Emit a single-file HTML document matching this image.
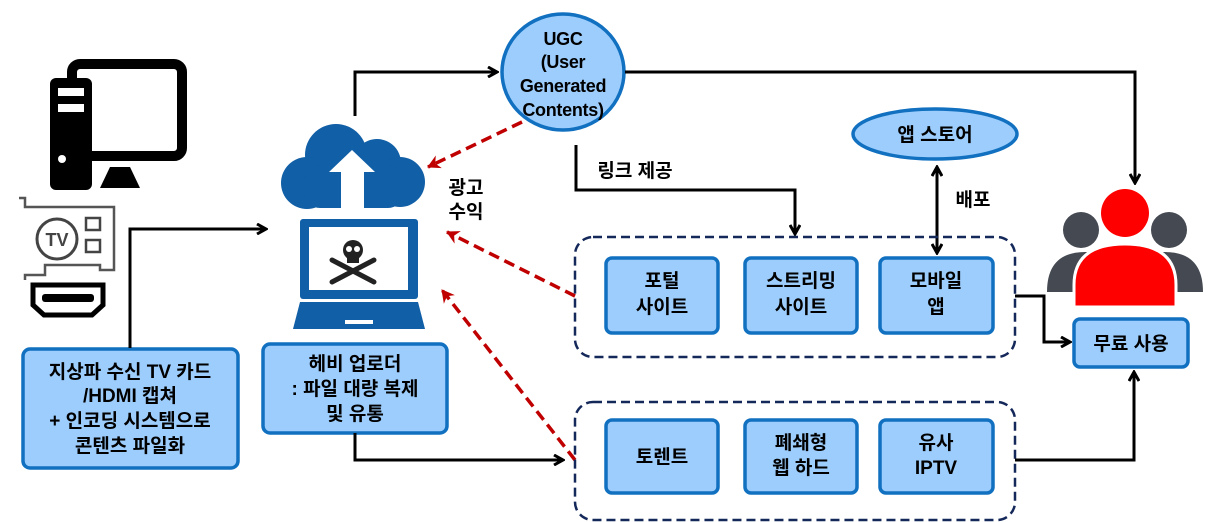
<!DOCTYPE html>
<html><head><meta charset="utf-8"><style>
html,body{margin:0;padding:0;background:#fff;}
svg{display:block;}
text{font-family:"Liberation Sans","Noto Sans CJK KR",sans-serif;font-weight:bold;font-size:19px;fill:#000;text-anchor:middle;}
.ugc{font-size:18px;letter-spacing:-0.3px;}
.box{fill:#9dcdfc;stroke:#1170c0;stroke-width:3.5;}
.grp{fill:none;stroke:#14285a;stroke-width:2.5;stroke-dasharray:9 5;}
.ln{fill:none;stroke:#000;stroke-width:3;}
.rd{fill:none;stroke:#c00000;stroke-width:3.5;stroke-dasharray:11 6;}
</style></head><body>
<svg width="1216" height="522" viewBox="0 0 1216 522" xmlns="http://www.w3.org/2000/svg">
<defs>
<marker id="ab" markerWidth="12" markerHeight="12" refX="10" refY="6" orient="auto" markerUnits="userSpaceOnUse"><path d="M1,1 L10,6 L1,11" fill="none" stroke="#000" stroke-width="3"/></marker>
<marker id="ar" markerWidth="16" markerHeight="16" refX="13" refY="8" orient="auto" markerUnits="userSpaceOnUse"><path d="M1,1 L14,8 L1,15 L5,8z" fill="#c00000"/></marker>
<marker id="abs" markerWidth="12" markerHeight="12" refX="2" refY="6" orient="auto" markerUnits="userSpaceOnUse"><path d="M11,1 L2,6 L11,11" fill="none" stroke="#000" stroke-width="3"/></marker>
</defs>

<!-- PC icon -->
<rect x="72" y="64" width="110" height="92" rx="8" fill="none" stroke="#000" stroke-width="10"/>
<path d="M100 188 L110 167 L130 167 L140 188z" fill="#000"/>
<rect x="50" y="78" width="42" height="112" rx="6" fill="#000"/>
<rect x="58" y="88" width="26" height="8" fill="#fff"/>
<rect x="58" y="104" width="26" height="8" fill="#fff"/>
<circle cx="62" cy="159" r="4" fill="#fff"/>
<!-- TV card -->
<path d="M19 198 L25 198 L25 207 L114 207 L114 270 L100 270 L100 265 L45 265 L45 275 L25 275 L25 280" fill="none" stroke="#555" stroke-width="2.5"/>
<circle cx="57" cy="239" r="20" fill="none" stroke="#444" stroke-width="3"/>
<text x="57" y="246" style="font-size:18px;fill:#444">TV</text>
<rect x="86" y="218" width="14" height="12" fill="none" stroke="#444" stroke-width="2.5"/>
<rect x="86" y="240" width="14" height="12" fill="none" stroke="#444" stroke-width="2.5"/>
<!-- HDMI -->
<path d="M33 285 L103 285 L103 305 L92 315 L44 315 L33 305z" fill="none" stroke="#000" stroke-width="5"/>
<rect x="42" y="294" width="52" height="8" rx="3" fill="#000"/>

<!-- box left -->
<rect class="box" x="23" y="349" width="215" height="119" rx="7"/>
<text x="130" y="378">지상파 수신 TV 카드</text>
<text x="130" y="402">/HDMI 캡쳐</text>
<text x="130" y="427">+ 인코딩 시스템으로</text>
<text x="130" y="452">콘텐츠 파일화</text>
<path class="ln" d="M130 348 L130 229 L266 229" marker-end="url(#ab)"/>

<!-- cloud -->
<g fill="#115fa6">
<circle cx="336" cy="155" r="31"/><circle cx="377" cy="163" r="24"/><circle cx="400" cy="182" r="25"/><circle cx="307" cy="183" r="26"/>
<rect x="305" y="165" width="98" height="43" rx="15"/>
</g>
<path d="M352 150 L375 172 L364 172 L364 212 L341 212 L341 172 L329 172z" fill="#fff"/>
<!-- laptop -->
<rect x="300" y="219" width="118" height="80" rx="3" fill="#115fa6"/>
<rect x="309" y="227" width="99" height="63" fill="#fff"/>
<path d="M300 302 L418 302 L425 329 L293 329z" fill="#115fa6"/>
<rect x="345" y="320" width="28" height="4" fill="#fff"/>
<circle cx="353" cy="250" r="10" fill="#222"/>
<rect x="347" y="255" width="12" height="8" fill="#222"/>
<circle cx="349" cy="249" r="3" fill="#fff"/><circle cx="357" cy="249" r="3" fill="#fff"/>
<path d="M332 260 L374 282 M374 260 L332 282" stroke="#222" stroke-width="5" stroke-linecap="round"/>

<!-- heavy uploader -->
<rect class="box" x="263" y="344" width="184" height="89" rx="7"/>
<text x="355" y="370">헤비 업로더</text>
<text x="355" y="395">: 파일 대량 복제</text>
<text x="355" y="420">및 유통</text>
<path class="ln" d="M355 433 L355 460 L563 460" marker-end="url(#ab)"/>
<path class="ln" d="M355 116 L355 72 L497 72" marker-end="url(#ab)"/>

<!-- UGC -->
<ellipse cx="563" cy="72" rx="61" ry="58" class="box"/>
<text class="ugc" x="563" y="45">UGC</text>
<text class="ugc" x="563" y="68">(User</text>
<text class="ugc" x="563" y="92">Generated</text>
<text class="ugc" x="563" y="116">Contents)</text>
<path class="ln" d="M625 72 L1135 72 L1135 183" marker-end="url(#ab)"/>
<path class="ln" d="M576 145 L576 190 L795 190 L795 234" marker-end="url(#ab)"/>
<text x="635" y="177">링크 제공</text>
<path class="rd" d="M522 122 L428 167" marker-end="url(#ar)"/>
<text x="466" y="194">광고</text>
<text x="466" y="218">수익</text>
<path class="rd" d="M575 296 L447 232" marker-end="url(#ar)"/>
<path class="rd" d="M575 460 L442 290" marker-end="url(#ar)"/>

<!-- app store -->
<ellipse cx="935" cy="134" rx="82" ry="25" class="box"/>
<text x="935" y="141">앱 스토어</text>
<path class="ln" d="M937 167 L937 253" marker-start="url(#abs)" marker-end="url(#ab)"/>
<text x="973" y="206">배포</text>

<!-- groups -->
<rect class="grp" x="575" y="237" width="440" height="120" rx="18"/>
<rect class="grp" x="575" y="402" width="440" height="118" rx="18"/>
<rect class="box" x="606" y="258" width="112" height="75" rx="6"/>
<text x="662" y="287">포털</text><text x="662" y="313">사이트</text>
<rect class="box" x="745" y="258" width="112" height="75" rx="6"/>
<text x="801" y="287">스트리밍</text><text x="801" y="313">사이트</text>
<rect class="box" x="880" y="258" width="113" height="75" rx="6"/>
<text x="936" y="287">모바일</text><text x="936" y="313">앱</text>
<rect class="box" x="606" y="420" width="112" height="73" rx="6"/>
<text x="662" y="463">토렌트</text>
<rect class="box" x="745" y="420" width="112" height="73" rx="6"/>
<text x="801" y="449">폐쇄형</text><text x="801" y="474">웹 하드</text>
<rect class="box" x="880" y="420" width="113" height="73" rx="6"/>
<text x="936" y="449">유사</text><text x="936" y="474">IPTV</text>

<path class="ln" d="M1015 296 L1044 296 L1044 342 L1070 342" marker-end="url(#ab)"/>
<path class="ln" d="M1015 460 L1134 460 L1134 372" marker-end="url(#ab)"/>

<!-- people -->
<g fill="#454a52">
<circle cx="1081" cy="230" r="18"/><circle cx="1169" cy="230" r="18"/>
<path d="M1047 292 Q1047 252 1085 252 L1090 252 L1090 292z"/>
<path d="M1203 292 Q1203 252 1165 252 L1160 252 L1160 292z"/>
</g>
<circle cx="1125" cy="213" r="27" fill="#fff"/>
<circle cx="1125" cy="213" r="24" fill="#f00"/>
<path d="M1074 307 L1074 285 Q1074 244 1125 244 Q1176 244 1176 285 L1176 307z" fill="#f00" stroke="#fff" stroke-width="3"/>

<rect class="box" x="1074" y="319" width="114" height="48" rx="6"/>
<text x="1131" y="350">무료 사용</text>
</svg>
</body></html>
